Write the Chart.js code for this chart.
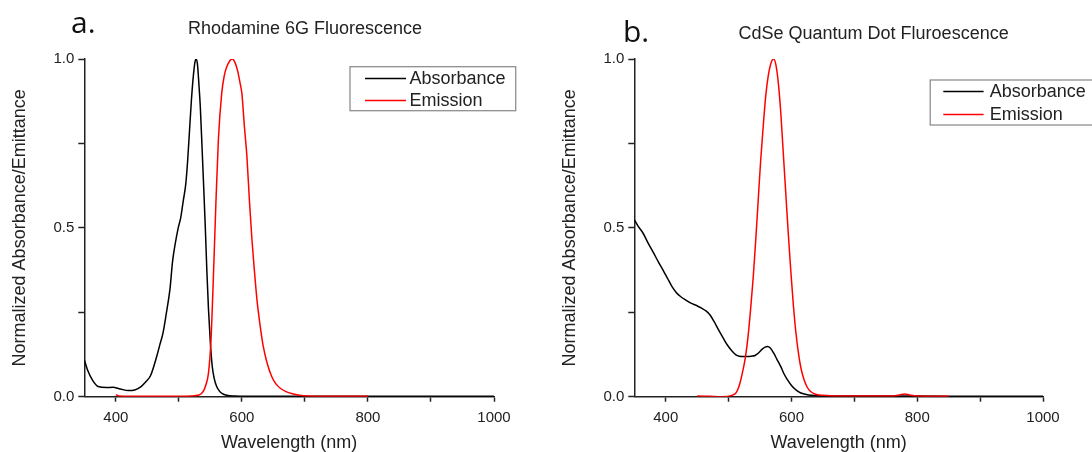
<!DOCTYPE html>
<html>
<head>
<meta charset="utf-8">
<title>Fluorescence spectra</title>
<script src="https://cdn.jsdelivr.net/npm/chart.js@4"></script>
<style>
  body { margin: 0; background: #fff; }
  canvas { position: absolute; top: 0; }
</style>
</head>
<body>
<canvas id="chartA" width="546" height="452" style="left:0"></canvas>
<canvas id="chartB" width="546" height="452" style="left:546px"></canvas>
<script>
// ---------------------------------------------------------
// data (wavelength in nm, normalized value)
// ---------------------------------------------------------
const xTickLabels = [400, 600, 800, 1000];
const yTickLabels = [0, 0.5, 1];

// a. Rhodamine 6G
const rhodAbsNm  = [350, 355, 363, 372, 385, 395, 407, 420, 430, 440, 448, 455, 465, 470, 475, 480, 486, 490, 494, 499, 503, 507, 511, 514, 517, 520, 523, 525.5, 527.5, 529.5, 532, 534, 537, 539, 542, 544.5, 547, 550, 553, 556, 560, 565, 570, 576, 590, 620, 700, 800, 900, 1000];
const rhodAbsVal = [0.109, 0.08, 0.049, 0.03, 0.027, 0.028, 0.023, 0.018, 0.02, 0.03, 0.045, 0.062, 0.12, 0.155, 0.19, 0.245, 0.32, 0.40, 0.45, 0.50, 0.53, 0.58, 0.63, 0.70, 0.79, 0.88, 0.95, 0.99, 1.0, 0.985, 0.92, 0.86, 0.73, 0.64, 0.5, 0.37, 0.26, 0.16, 0.09, 0.055, 0.03, 0.015, 0.008, 0.004, 0.002, 0.001, 0.001, 0.001, 0.001, 0.001];
const rhodEmNm   = [400, 405, 450, 500, 520, 530, 535, 540, 542, 547, 551, 555, 558.6, 562.7, 568, 572, 576, 581, 585, 589, 593, 597, 600, 604, 608, 612, 616, 620, 624, 629, 634, 640, 647.5, 654, 661, 670, 682, 692, 703, 750, 800];
const rhodEmVal  = [0.006, 0.002, 0.001, 0.001, 0.002, 0.004, 0.008, 0.02, 0.03, 0.07, 0.168, 0.365, 0.563, 0.76, 0.898, 0.95, 0.977, 0.995, 1.0, 0.99, 0.967, 0.93, 0.898, 0.8, 0.711, 0.58, 0.464, 0.37, 0.286, 0.21, 0.148, 0.1, 0.059, 0.038, 0.025, 0.015, 0.008, 0.004, 0.002, 0.001, 0.001];

// b. CdSe quantum dots
const cdseAbsNm  = [350, 356, 364, 372, 380, 388, 396.5, 403, 410, 417, 424, 432, 440, 449, 457, 464, 470.5, 477, 484, 491, 498, 505, 511.6, 517, 523, 530, 536, 542, 548, 553, 558, 562, 566, 572, 577, 583, 588, 594, 600, 607, 615, 627, 640, 654, 700, 800, 900, 1000];
const cdseAbsVal = [0.524, 0.505, 0.484, 0.455, 0.428, 0.4, 0.372, 0.35, 0.326, 0.308, 0.296, 0.286, 0.277, 0.27, 0.262, 0.254, 0.242, 0.222, 0.198, 0.175, 0.153, 0.136, 0.124, 0.12, 0.119, 0.119, 0.12, 0.122, 0.13, 0.14, 0.147, 0.149, 0.145, 0.128, 0.11, 0.089, 0.068, 0.049, 0.033, 0.02, 0.011, 0.005, 0.003, 0.002, 0.002, 0.002, 0.001, 0.001];
const cdseEmNm   = [450, 470, 490, 505, 512, 518, 523, 527, 531, 535, 539, 543, 547, 551, 555, 559, 563, 567, 571, 575, 579, 583, 587, 591, 595, 599, 603, 607, 611, 615, 620, 625, 630, 637, 650, 680, 720, 760, 772, 780, 788, 800, 850];
const cdseEmVal  = [0.002, 0.001, 0.0, 0.004, 0.012, 0.04, 0.08, 0.12, 0.18, 0.26, 0.35, 0.46, 0.58, 0.7, 0.8, 0.89, 0.95, 0.985, 1.0, 0.985, 0.93, 0.84, 0.72, 0.6, 0.48, 0.37, 0.27, 0.19, 0.13, 0.085, 0.05, 0.028, 0.016, 0.008, 0.004, 0.002, 0.002, 0.002, 0.005, 0.008, 0.005, 0.002, 0.001];

const FONT = '"Liberation Sans", Arial, sans-serif';
const INK = '#222';

function toPoints(xs, ys) {
    return xs.map((x, i) => ({ x: x, y: ys[i] }));
}

// titles, panel letter and boxed legend, drawn on top of the chart
const decorPlugin = {
    id: 'decor',
    afterDraw(chart, args, o) {
        const ctx = chart.ctx;
        ctx.save();

        ctx.fillStyle = '#111';
        ctx.textAlign = 'left';
        ctx.textBaseline = 'alphabetic';
        ctx.font = '30px "Open Sans", sans-serif';
        ctx.fillText(o.letter, o.letterX, o.letterY);

        ctx.fillStyle = INK;
        ctx.textAlign = 'center';
        ctx.textBaseline = 'middle';
        ctx.font = '18px ' + FONT;
        ctx.fillText(o.title, o.titleX, o.titleY);

        // legend box
        const lg = o.legend;
        ctx.strokeStyle = '#8f8f8f';
        ctx.lineWidth = 1.3;
        ctx.strokeRect(lg.x, lg.y, lg.w, lg.h);
        ctx.textAlign = 'left';
        chart.data.datasets.forEach((ds, i) => {
            const y = lg.rowY[i];
            ctx.strokeStyle = ds.borderColor;
            ctx.lineWidth = 1.5;
            ctx.beginPath();
            ctx.moveTo(lg.lineX0, y);
            ctx.lineTo(lg.lineX1, y);
            ctx.stroke();
            ctx.fillStyle = INK;
            ctx.fillText(ds.label, lg.textX, y + 1);
        });
        ctx.restore();
    }
};

function makeChart(canvasId, absPts, emPts, cfg) {
    const ctx = document.getElementById(canvasId).getContext('2d');
    return new Chart(ctx, {
        type: 'line',
        data: {
            datasets: [
                {
                    label: 'Absorbance',
                    data: absPts,
                    borderColor: '#000000',
                    borderWidth: 1.5,
                    pointRadius: 0,
                    cubicInterpolationMode: 'monotone',
                    order: 1
                },
                {
                    label: 'Emission',
                    data: emPts,
                    borderColor: '#ff0000',
                    borderWidth: 1.5,
                    pointRadius: 0,
                    cubicInterpolationMode: 'monotone',
                    order: 0
                }
            ]
        },
        options: {
            responsive: false,
            animation: false,
            events: [],
            layout: { padding: { left: 0, top: cfg.top, right: 546 - cfg.right, bottom: 0 } },
            plugins: {
                legend: { display: false },
                tooltip: { enabled: false },
                title: { display: false },
                decor: cfg.decor
            },
            scales: {
                x: {
                    type: 'linear',
                    min: 350,
                    max: 1000,
                    afterFit(s) { s.height = 452 - cfg.bottom; s.paddingLeft = 0; s.paddingRight = 0; },
                    border: { display: true, color: INK, width: 1.5 },
                    grid: { drawOnChartArea: false, drawTicks: true, tickLength: 5, tickWidth: 1.5, tickColor: INK },
                    ticks: {
                        stepSize: 100,
                        includeBounds: false,
                        autoSkip: false,
                        maxRotation: 0,
                        padding: 7,
                        color: INK,
                        font: { family: FONT, size: 15 },
                        callback: v => xTickLabels.includes(v) ? String(v) : ''
                    },
                    title: {
                        display: true,
                        text: 'Wavelength (nm)',
                        color: INK,
                        font: { family: FONT, size: 18, lineHeight: 1 },
                        padding: { top: 0, bottom: 0 }
                    }
                },
                y: {
                    type: 'linear',
                    min: 0,
                    max: 1,
                    afterFit(s) { s.width = cfg.left; s.paddingTop = 0; s.paddingBottom = 0; },
                    border: { display: true, color: INK, width: 1.5 },
                    grid: { drawOnChartArea: false, drawTicks: true, tickLength: 6, tickWidth: 1.5, tickColor: INK },
                    ticks: {
                        stepSize: 0.25,
                        autoSkip: false,
                        padding: 4,
                        color: INK,
                        font: { family: FONT, size: 15 },
                        callback: v => yTickLabels.includes(v) ? v.toFixed(1) : ''
                    },
                    title: {
                        display: true,
                        text: 'Normalized Absorbance/Emittance',
                        color: INK,
                        font: { family: FONT, size: 18, lineHeight: 1 },
                        padding: { top: cfg.yTitlePad, bottom: 0 }
                    }
                }
            }
        },
        plugins: [decorPlugin]
    });
}

makeChart('chartA', toPoints(rhodAbsNm, rhodAbsVal), toPoints(rhodEmNm, rhodEmVal), {
    left: 84.3, right: 494, top: 59, bottom: 396.7, yTitlePad: 11,
    decor: {
        letter: 'a.', letterX: 71, letterY: 33,
        title: 'Rhodamine 6G Fluorescence', titleX: 305, titleY: 29,
        legend: { x: 350, y: 66.7, w: 165.7, h: 44, rowY: [78.5, 100.5], lineX0: 365, lineX1: 406, textX: 409.5 }
    }
});

makeChart('chartB', toPoints(cdseAbsNm, cdseAbsVal), toPoints(cdseEmNm, cdseEmVal), {
    left: 88.3, right: 497, top: 59, bottom: 396.7, yTitlePad: 15,
    decor: {
        letter: 'b.', letterX: 77, letterY: 42,
        title: 'CdSe Quantum Dot Fluroescence', titleX: 327.6, titleY: 34,
        legend: { x: 384.2, y: 80, w: 200, h: 45, rowY: [91.5, 114.5], lineX0: 397.3, lineX1: 437.6, textX: 443.8 }
    }
});
</script>
</body>
</html>
